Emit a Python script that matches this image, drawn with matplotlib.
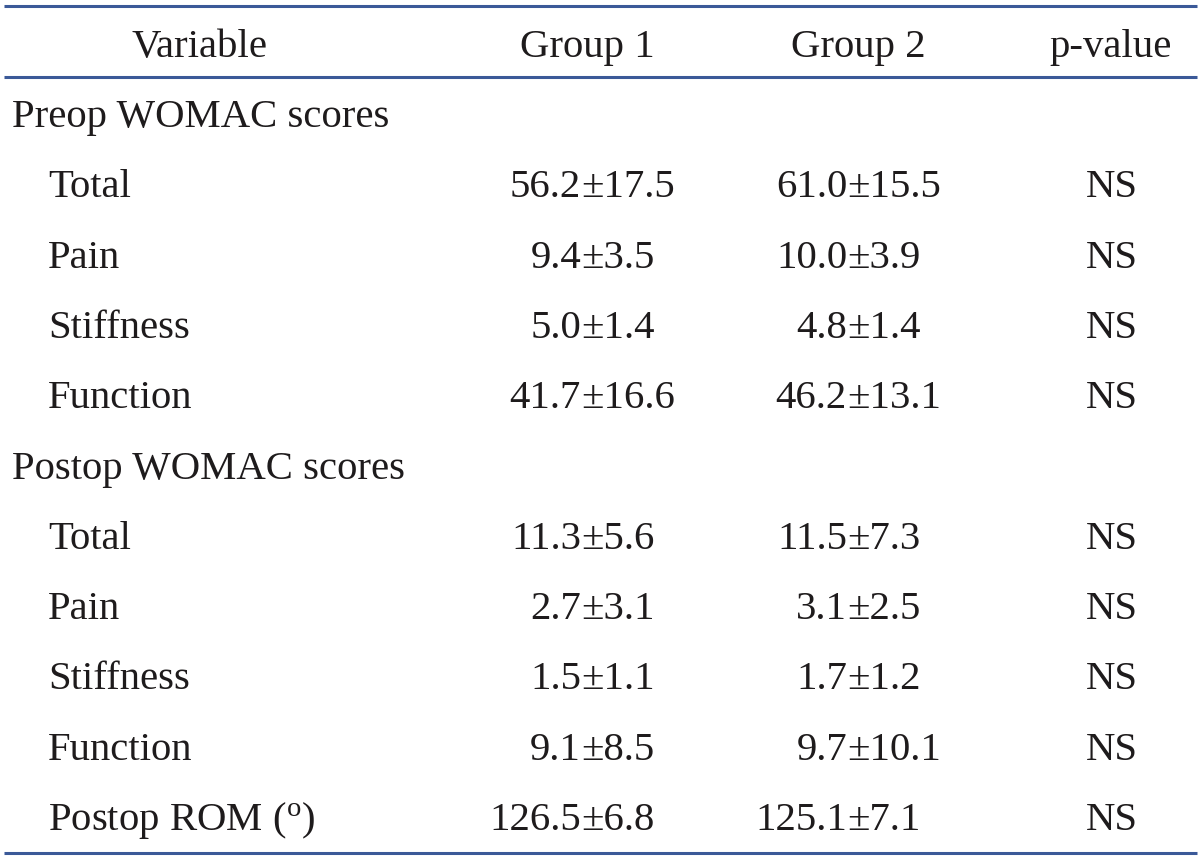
import matplotlib.pyplot as plt

plt.rcParams['font.family'] = ['Liberation Serif', 'DejaVu Serif']
plt.rcParams['mathtext.fontset'] = 'custom'
plt.rcParams['mathtext.rm'] = 'Liberation Serif'

headers = ['Variable', 'Group 1', 'Group 2', 'p-value']
sections = ['Preop WOMAC scores', 'Postop WOMAC scores', None]
row_labels = [
    ['Total', 'Pain', 'Stiffness', 'Function'],
    ['Total', 'Pain', 'Stiffness', 'Function'],
    ['Postop ROM ($\\mathregular{^{o}}$)'],
]
group1_mean = [['56.2', '9.4', '5.0', '41.7'], ['11.3', '2.7', '1.5', '9.1'], ['126.5']]
group1_sd = [['17.5', '3.5', '1.4', '16.6'], ['5.6', '3.1', '1.1', '8.5'], ['6.8']]
group2_mean = [['61.0', '10.0', '4.8', '46.2'], ['11.5', '3.1', '1.7', '9.7'], ['125.1']]
group2_sd = [['15.5', '3.9', '1.4', '13.1'], ['7.3', '2.5', '1.2', '10.1'], ['7.1']]
p_values = [['NS'] * 4, ['NS'] * 4, ['NS']]

W, H = 1200, 857
fig = plt.figure(figsize=(12, 8.57), dpi=100)
ax = fig.add_axes([0, 0, 1, 1])
ax.set_xlim(0, W)
ax.set_ylim(H, 0)
ax.axis('off')

fs = 29.3
txt_color = '#1e1b1c'
line_color = '#3b5998'

# horizontal rules
for y in [6, 77, 853]:
    ax.plot([4, 1197], [y, y], color=line_color, lw=2.2, solid_capstyle='butt')

# header
head_x = [200, 587, 858, 1111]
for x, h in zip(head_x, headers):
    ax.text(x, 57, h, ha='center', va='baseline', fontsize=fs, color=txt_color)

pm_x1, pm_x2 = 581, 847
pitch = 70.3
y = 127
for s, sec in enumerate(sections):
    if sec is not None:
        ax.text(12, y, sec, ha='left', va='baseline', fontsize=fs, color=txt_color)
        y += pitch
    for i, lab in enumerate(row_labels[s]):
        ax.text(48, y, lab, ha='left', va='baseline', fontsize=fs, color=txt_color)
        ax.text(pm_x1, y, group1_mean[s][i], ha='right', va='baseline', fontsize=fs, color=txt_color)
        ax.text(pm_x1, y, '\u00b1' + group1_sd[s][i], ha='left', va='baseline', fontsize=fs, color=txt_color)
        ax.text(pm_x2, y, group2_mean[s][i], ha='right', va='baseline', fontsize=fs, color=txt_color)
        ax.text(pm_x2, y, '\u00b1' + group2_sd[s][i], ha='left', va='baseline', fontsize=fs, color=txt_color)
        ax.text(1112, y, p_values[s][i], ha='center', va='baseline', fontsize=fs, color=txt_color)
        y += pitch

fig.savefig('out.png', dpi=100)
